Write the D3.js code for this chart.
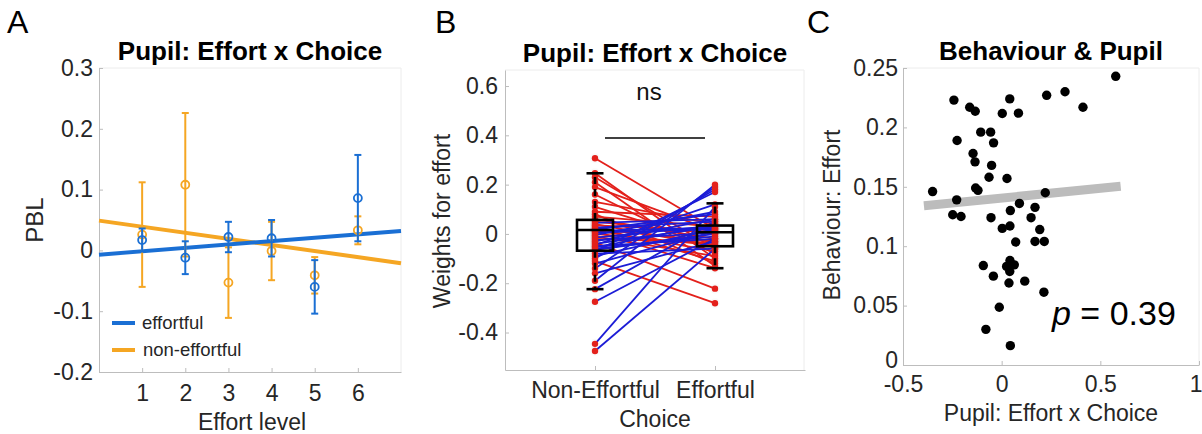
<!DOCTYPE html>
<html>
<head>
<meta charset="utf-8">
<script src="https://d3js.org/d3.v7.min.js"></script>
<style>
  body { margin: 0; background: #fff; }
  svg { font-family: "Liberation Sans", Arial, Helvetica, sans-serif; }
</style>
</head>
<body>
<div id="fig"></div>
<script>
// ---- panel A: PBL by effort level ----
var effortLevels = [1, 2, 3, 4, 5, 6];
var effortfulMean = [0.017, -0.012, 0.022, 0.020, -0.060, 0.086];
var effortfulErr = [0.019, 0.027, 0.025, 0.030, 0.044, 0.071];
var nonEffortfulMean = [0.026, 0.108, -0.053, -0.001, -0.041, 0.033];
var nonEffortfulErr = [0.086, 0.118, 0.058, 0.048, 0.030, 0.023];
var fitX = [0, 7];
var effortfulFitY = [-0.007, 0.032];
var nonEffortfulFitY = [0.049, -0.021];
var pblTicks = [-0.2, -0.1, 0, 0.1, 0.2, 0.3];

// ---- panel B: weights for effort, paired by subject ----
var choiceCats = ["Non-Effortful", "Effortful"];
var nonEffortfulWeights = [0.307, 0.246, 0.23, 0.21, 0.19, 0.16, 0.13, 0.11, 0.09, 0.08, 0.07, 0.06,
  0.05, 0.045, 0.04, 0.035, 0.03, 0.025, 0.02, 0.018, 0.015, 0.012, 0.01, 0.005, 0.0,
  -0.005, -0.01, -0.015, -0.02, -0.025, -0.03, -0.035, -0.04, -0.045, -0.05, -0.055, -0.06, -0.065,
  -0.07, -0.08, -0.09, -0.10, -0.11, -0.12, -0.14, -0.16, -0.19, -0.224, -0.275, -0.446, -0.475];
var effortfulWeights = [0.02, -0.10, -0.06, -0.13, 0.01, -0.08, 0.04, -0.04, 0.07, -0.12, 0.03, -0.02,
  0.0, 0.06, -0.05, 0.015, -0.11, 0.05, -0.03, 0.08, -0.07, 0.025, -0.139, 0.02, -0.045,
  0.09, -0.09, 0.034, -0.035, 0.005, 0.06, -0.222, 0.03, 0.12, -0.02, 0.04, -0.01, 0.0,
  0.17, -0.06, 0.02, 0.18, -0.281, 0.01, 0.19, -0.03, 0.2, 0.05, -0.02, 0.11, -0.06];
var boxLow = [-0.224, -0.139];
var boxQ1 = [-0.068, -0.050];
var boxMedian = [0.016, 0.007];
var boxQ3 = [0.057, 0.034];
var boxHigh = [0.246, 0.124];
var weightTicks = [-0.4, -0.2, 0, 0.2, 0.4, 0.6];

// ---- panel C: behaviour vs pupil ----
var pupilEffect = [0.578, 0.321, 0.228, 0.412, -0.242, 0.041, -0.162, -0.134, 0.003, 0.085,
  -0.106, -0.056, -0.226, -0.041, -0.145, -0.135, -0.051, -0.064, 0.027, -0.350,
  -0.132, -0.120, 0.221, -0.228, 0.090, 0.169, 0.044, -0.248, -0.206, -0.054,
  0.149, 0.003, 0.042, 0.193, 0.071, 0.169, 0.216, -0.093, 0.042, 0.025,
  0.064, 0.041, -0.042, 0.117, 0.037, 0.214, -0.012, -0.080, 0.044];
var behaviourEffort = [0.243, 0.230, 0.227, 0.217, 0.223, 0.224, 0.217, 0.2136, 0.2117, 0.212,
  0.196, 0.196, 0.189, 0.187, 0.178, 0.171, 0.168, 0.158, 0.157, 0.146,
  0.149, 0.147, 0.145, 0.139, 0.136, 0.1327, 0.130, 0.1265, 0.125, 0.124,
  0.124, 0.115, 0.117, 0.114, 0.1035, 0.104, 0.104, 0.0837, 0.088, 0.083,
  0.0843, 0.0787, 0.0748, 0.0706, 0.069, 0.0613, 0.0486, 0.030, 0.0163];
var corrFitX = [-0.394, 0.603];
var corrFitY = [0.134, 0.1505];
var behTicksY = [0, 0.05, 0.1, 0.15, 0.2, 0.25];
var pupilTicksX = [-0.5, 0, 0.5, 1];

var blue = "#1a6fd4", orange = "#f5a623";
var lineRed = "#e3201b", lineBlue = "#1c1cd6";
var axisGray = "#bdbdbd", textGray = "#262626";

var svg = d3.select("#fig").append("svg")
    .attr("width", 1202)
    .attr("height", 434);

function fmt(d) { return d === 0 ? "0" : String(+d.toFixed(2)); }

function styleAxis(g) {
    g.attr("font-size", null).attr("font-family", null);
    g.select(".domain").attr("stroke", axisGray);
    g.selectAll(".tick line").attr("stroke", axisGray);
    g.selectAll(".tick text").attr("fill", textGray).style("font-size", "23px");
}

function frame(x0, x1, y0, y1) {
    svg.append("line").attr("x1", x0).attr("x2", x1).attr("y1", y0).attr("y2", y0)
        .attr("stroke", "#ececec");
    svg.append("line").attr("x1", x1).attr("x2", x1).attr("y1", y0).attr("y2", y1)
        .attr("stroke", "#ececec");
}

function text(x, y, s, size, opts) {
    opts = opts || {};
    var t = svg.append("text")
        .attr("x", x).attr("y", y)
        .attr("text-anchor", opts.anchor || "middle")
        .attr("fill", opts.fill || textGray)
        .style("font-size", size + "px")
        .style("font-weight", opts.bold ? "bold" : "normal")
        .text(s);
    if (opts.rotate) t.attr("transform", "rotate(-90," + x + "," + y + ")");
    return t;
}

// ================= PANEL A =================
var xA = d3.scaleLinear().domain([0, 7]).range([99, 401]);
var yA = d3.scaleLinear().domain([-0.2, 0.3]).range([372, 68]);

frame(99, 401, 68, 372);
svg.append("g").attr("transform", "translate(99,0)")
    .call(d3.axisLeft(yA).tickValues(pblTicks).tickSize(-4).tickSizeOuter(0).tickPadding(6).tickFormat(fmt))
    .call(styleAxis);
svg.append("g").attr("transform", "translate(0,372)")
    .call(d3.axisBottom(xA).tickValues(effortLevels).tickSize(-4).tickSizeOuter(0).tickPadding(13)
        .tickFormat(d3.format("d")))
    .call(styleAxis);

// fit lines
var fitLine = d3.line().x(function(d) { return xA(d[0]); }).y(function(d) { return yA(d[1]); });
svg.append("path").datum(d3.zip(fitX, nonEffortfulFitY)).attr("d", fitLine)
    .attr("stroke", orange).attr("stroke-width", 4).attr("fill", "none");
svg.append("path").datum(d3.zip(fitX, effortfulFitY)).attr("d", fitLine)
    .attr("stroke", blue).attr("stroke-width", 4).attr("fill", "none");

function errorSeries(means, errs, color) {
    var g = svg.append("g").attr("stroke", color).attr("fill", "none");
    effortLevels.forEach(function(lv, i) {
        var cx = xA(lv), lo = yA(means[i] - errs[i]), hi = yA(means[i] + errs[i]);
        g.append("line").attr("x1", cx).attr("x2", cx).attr("y1", lo).attr("y2", hi).attr("stroke-width", 2);
        g.append("line").attr("x1", cx - 3.5).attr("x2", cx + 3.5).attr("y1", lo).attr("y2", lo).attr("stroke-width", 2);
        g.append("line").attr("x1", cx - 3.5).attr("x2", cx + 3.5).attr("y1", hi).attr("y2", hi).attr("stroke-width", 2);
        g.append("circle").attr("cx", cx).attr("cy", yA(means[i])).attr("r", 4).attr("stroke-width", 1.8);
    });
}
errorSeries(nonEffortfulMean, nonEffortfulErr, orange);
errorSeries(effortfulMean, effortfulErr, blue);

// legend
svg.append("line").attr("x1", 112).attr("x2", 135).attr("y1", 323).attr("y2", 323)
    .attr("stroke", blue).attr("stroke-width", 4);
svg.append("line").attr("x1", 112).attr("x2", 135).attr("y1", 350).attr("y2", 350)
    .attr("stroke", orange).attr("stroke-width", 4);
text(142, 329, "effortful", 18.5, {anchor: "start"});
text(143, 356, "non-effortful", 18.5, {anchor: "start"});

text(250, 60, "Pupil: Effort x Choice", 26, {bold: true, fill: "#000"});
text(252, 430, "Effort level", 23);
text(43, 220, "PBL", 24, {rotate: true});
text(7, 33, "A", 32, {anchor: "start", fill: "#000"});

// ================= PANEL B =================
var xB = d3.scaleLinear().domain([0.25, 2.75]).range([505, 805]);
var yB = d3.scaleLinear().domain([-0.552, 0.665]).range([370, 70]);

frame(505, 804, 70, 370);
svg.append("g").attr("transform", "translate(505,0)")
    .call(d3.axisLeft(yB).tickValues(weightTicks).tickSize(-4).tickSizeOuter(0).tickPadding(7).tickFormat(fmt))
    .call(styleAxis);
svg.append("g").attr("transform", "translate(0,370)")
    .call(d3.axisBottom(xB).tickValues([1, 2]).tickSize(-4).tickSizeOuter(0).tickPadding(12)
        .tickFormat(function(d) { return choiceCats[d - 1]; }))
    .call(styleAxis);

var pairs = d3.zip(nonEffortfulWeights, effortfulWeights);
var gPairs = svg.append("g");
pairs.forEach(function(p) {
    gPairs.append("circle").attr("cx", xB(1)).attr("cy", yB(p[0])).attr("r", 5).attr("fill", "#999").attr("opacity", 0.05);
    gPairs.append("circle").attr("cx", xB(2)).attr("cy", yB(p[1])).attr("r", 5).attr("fill", "#999").attr("opacity", 0.05);
});
pairs.forEach(function(p) {
    gPairs.append("line")
        .attr("x1", xB(1)).attr("y1", yB(p[0]))
        .attr("x2", xB(2)).attr("y2", yB(p[1]))
        .attr("stroke", p[1] > p[0] ? lineBlue : lineRed)
        .attr("stroke-width", 1.8);
});
pairs.forEach(function(p) {
    gPairs.append("circle").attr("cx", xB(1)).attr("cy", yB(p[0])).attr("r", 3.2).attr("fill", lineRed);
    gPairs.append("circle").attr("cx", xB(2)).attr("cy", yB(p[1])).attr("r", 3.2).attr("fill", lineRed);
});

// box plots
var gBox = svg.append("g").attr("stroke", "#000").attr("stroke-width", 2.6).attr("fill", "none");
[0, 1].forEach(function(i) {
    var cx = xB(i + 1), hw = 18, cw = 8.5;
    gBox.append("line").attr("x1", cx).attr("x2", cx).attr("y1", yB(boxQ3[i])).attr("y2", yB(boxHigh[i]))
        .attr("stroke-dasharray", "7,5");
    gBox.append("line").attr("x1", cx).attr("x2", cx).attr("y1", yB(boxQ1[i])).attr("y2", yB(boxLow[i]))
        .attr("stroke-dasharray", "7,5");
    gBox.append("line").attr("x1", cx - cw).attr("x2", cx + cw).attr("y1", yB(boxHigh[i])).attr("y2", yB(boxHigh[i]));
    gBox.append("line").attr("x1", cx - cw).attr("x2", cx + cw).attr("y1", yB(boxLow[i])).attr("y2", yB(boxLow[i]));
    gBox.append("rect").attr("x", cx - hw).attr("width", 2 * hw)
        .attr("y", yB(boxQ3[i])).attr("height", yB(boxQ1[i]) - yB(boxQ3[i]));
    gBox.append("line").attr("x1", cx - hw).attr("x2", cx + hw).attr("y1", yB(boxMedian[i])).attr("y2", yB(boxMedian[i]));
});

svg.append("line").attr("x1", 605).attr("x2", 705).attr("y1", 138).attr("y2", 138)
    .attr("stroke", "#000").attr("stroke-width", 1.6);
text(649, 100, "ns", 24, {fill: "#111"});

text(655, 62, "Pupil: Effort x Choice", 26, {bold: true, fill: "#000"});
text(655, 427, "Choice", 23);
text(450, 221, "Weights for effort", 23, {rotate: true});
text(435, 33, "B", 32, {anchor: "start", fill: "#000"});

// ================= PANEL C =================
var xC = d3.scaleLinear().domain([-0.5, 1]).range([903, 1199]);
var yC = d3.scaleLinear().domain([0, 0.25]).range([365, 68]);

frame(903, 1199, 68, 365);
var yAxisC = svg.append("g").attr("transform", "translate(903,0)")
    .call(d3.axisLeft(yC).tickValues(behTicksY).tickSize(-4).tickSizeOuter(0).tickPadding(5).tickFormat(fmt))
    .call(styleAxis);
// the "0" sits just above the corner, as in the original
yAxisC.selectAll(".tick text").filter(function(d) { return d === 0; }).attr("dy", "0.1em");
var xAxisC = svg.append("g").attr("transform", "translate(0,365)")
    .call(d3.axisBottom(xC).tickValues(pupilTicksX).tickSize(-4).tickSizeOuter(0).tickPadding(11).tickFormat(fmt))
    .call(styleAxis);
// last label sits on the right edge of the figure
xAxisC.selectAll(".tick text").filter(function(d) { return d === 1; })
    .attr("text-anchor", "end").attr("dx", 3);

svg.append("line")
    .attr("x1", xC(corrFitX[0])).attr("y1", yC(corrFitY[0]))
    .attr("x2", xC(corrFitX[1])).attr("y2", yC(corrFitY[1]))
    .attr("stroke", "#bcbcbc").attr("stroke-width", 9);

svg.append("g").selectAll("circle")
    .data(d3.zip(pupilEffect, behaviourEffort))
    .enter().append("circle")
    .attr("cx", function(d) { return xC(d[0]); })
    .attr("cy", function(d) { return yC(d[1]); })
    .attr("r", 4.7)
    .attr("fill", "#000");

var pt = svg.append("text").attr("x", 1052).attr("y", 325).attr("fill", "#000").style("font-size", "34px");
pt.append("tspan").style("font-style", "italic").text("p");
pt.append("tspan").text(" = 0.39");

text(1051, 60, "Behaviour & Pupil", 26, {bold: true, fill: "#000"});
text(1051, 421, "Pupil: Effort x Choice", 23);
text(840, 215, "Behaviour: Effort", 23, {rotate: true});
text(807, 33, "C", 32, {anchor: "start", fill: "#000"});
</script>
</body>
</html>
